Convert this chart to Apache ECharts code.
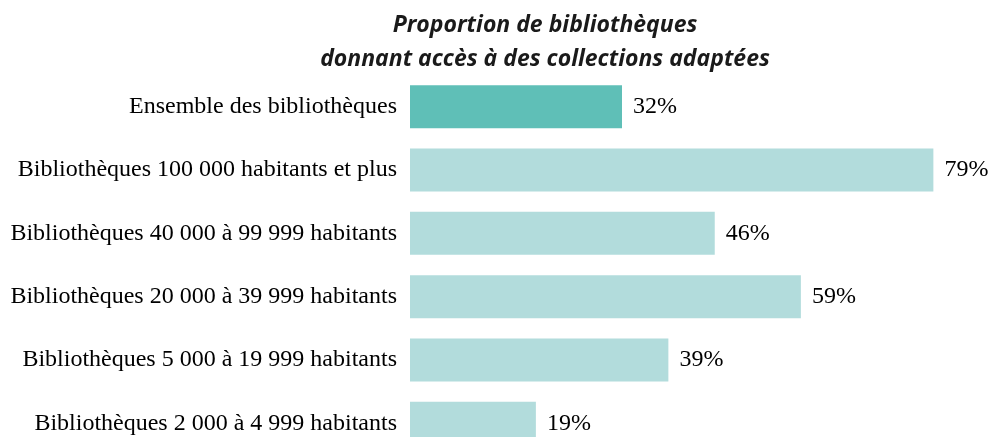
<!DOCTYPE html>
<html><head><meta charset="utf-8">
<script src="https://cdn.jsdelivr.net/npm/echarts@6/dist/echarts.min.js"></script>
<style>html,body{margin:0;padding:0;background:#fff}#c{width:990px;height:437px}</style>
</head><body><div id="c"></div>
<script>
const categories = [
  "Ensemble des bibliothèques",
  "Bibliothèques 100 000 habitants et plus",
  "Bibliothèques 40 000 à 99 999 habitants",
  "Bibliothèques 20 000 à 39 999 habitants",
  "Bibliothèques 5 000 à 19 999 habitants",
  "Bibliothèques 2 000 à 4 999 habitants"
];
const values = [32, 79, 46, 59, 39, 19];
const titleLines = ["Proportion de bibliothèques", "donnant accès à des collections adaptées"];

const chart = echarts.init(document.getElementById('c'));
chart.setOption({
  animation: false,
  title: {
    text: titleLines.join('\n'),
    left: 540, top: 3, textAlign: 'center',
    textStyle: {fontFamily: 'Open Sans', fontStyle: 'italic', fontWeight: 'bold', fontSize: 23, lineHeight: 34, color: '#1a1a1a'}
  },
  grid: {left: 410, right: 50, top: 75, height: 380, outerBoundsMode: 'none', containLabel: false},
  xAxis: {type: 'value', min: 0, max: 80, show: false},
  yAxis: {
    type: 'category', data: categories, inverse: true,
    axisLine: {show: false}, axisTick: {show: false},
    axisLabel: {fontFamily: 'Liberation Serif', fontSize: 24, color: '#000', margin: 13}
  },
  series: [{
    type: 'bar', barWidth: 43,
    data: values.map((v, i) => ({value: v, itemStyle: {color: i === 0 ? '#5fbfb7' : '#b2dcdc'}})),
    label: {show: true, position: 'right', distance: 11, formatter: '{c}%', fontFamily: 'Liberation Serif', fontSize: 24, color: '#000'}
  }]
});
</script></body></html>
